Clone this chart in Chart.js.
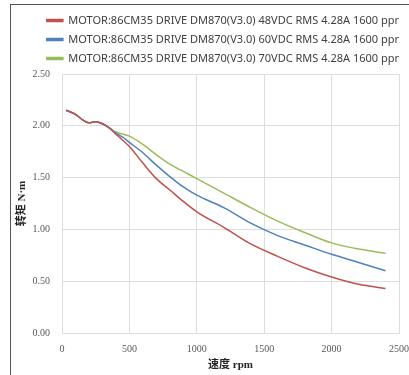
<!DOCTYPE html>
<html>
<head>
<meta charset="utf-8">
<script src="https://cdn.jsdelivr.net/npm/chart.js@4"></script>
<style>
  html, body { margin: 0; padding: 0; background: #fff; }
  #wrap { position: relative; width: 409px; height: 375px; }
  #frame {
    position: absolute; left: 10px; top: 4px; right: 0; bottom: 0;
    border-left: 1px solid #555; border-top: 1px solid #555;
    pointer-events: none;
  }
</style>
</head>
<body>
<div id="wrap">
  <canvas id="torque-chart" width="409" height="375"></canvas>
  <div id="frame"></div>
</div>
<script>
// --- data ---
const speeds = [30, 100, 150, 200, 250, 300, 350, 400, 450, 500, 600, 700, 800, 900, 1000, 1200, 1400, 1600, 1800, 2000, 2200, 2400];
const torque48 = [2.15, 2.11, 2.06, 2.03, 2.04, 2.02, 1.98, 1.92, 1.86, 1.80, 1.64, 1.49, 1.38, 1.27, 1.17, 1.02, 0.86, 0.74, 0.63, 0.54, 0.47, 0.43];
const torque60 = [2.15, 2.11, 2.06, 2.03, 2.04, 2.02, 1.98, 1.93, 1.89, 1.84, 1.74, 1.62, 1.51, 1.41, 1.33, 1.21, 1.06, 0.94, 0.85, 0.76, 0.68, 0.60];
const torque70 = [2.15, 2.11, 2.06, 2.03, 2.04, 2.02, 1.98, 1.94, 1.92, 1.90, 1.82, 1.72, 1.63, 1.56, 1.49, 1.35, 1.21, 1.08, 0.97, 0.87, 0.81, 0.77];
const seriesLabels = [
    'MOTOR:86CM35 DRIVE DM870(V3.0) 48VDC RMS 4.28A 1600 ppr',
    'MOTOR:86CM35 DRIVE DM870(V3.0) 60VDC RMS 4.28A 1600 ppr',
    'MOTOR:86CM35 DRIVE DM870(V3.0) 70VDC RMS 4.28A 1600 ppr'
];
const xTicks = [0, 500, 1000, 1500, 2000, 2500];
const yTicks = [0, 0.5, 1.0, 1.5, 2.0, 2.5];

const colors = ['#C0504D', '#4F81BD', '#9BBB59'];
const serif = '"Liberation Serif", "Noto Sans CJK SC", serif';

const toPoints = (ys) => ys.map((y, i) => ({ x: speeds[i], y: y }));

const ctx = document.getElementById('torque-chart').getContext('2d');
new Chart(ctx, {
    type: 'line',
    data: {
        datasets: [torque48, torque60, torque70].map((ys, i) => ({
            label: seriesLabels[i],
            data: toPoints(ys),
            borderColor: colors[i],
            backgroundColor: colors[i],
            borderWidth: 1.5,
            pointRadius: 0,
            cubicInterpolationMode: 'monotone',
            fill: false
        }))
    },
    options: {
        responsive: false,
        animation: false,
        events: [],
        layout: { padding: { left: 16, right: 2, top: 7, bottom: 0 } },
        plugins: {
            tooltip: { enabled: false },
            legend: {
                position: 'top',
                align: 'end',
                labels: {
                    boxWidth: 16,
                    boxHeight: 2,
                    padding: 8,
                    color: '#404040',
                    font: { family: '"Noto Sans", sans-serif', size: 11 }
                }
            }
        },
        scales: {
            x: {
                type: 'linear',
                min: 0,
                max: 2500,
                afterBuildTicks: (scale) => { scale.ticks = xTicks.map(v => ({ value: v })); },
                afterFit: (scale) => { scale.height = 42; scale.paddingRight = 10; },
                grid: { color: '#dedede', drawTicks: false },
                border: { color: '#dedede' },
                ticks: {
                    padding: 10,
                    color: '#595959',
                    font: { family: serif, size: 10 },
                    callback: (v) => String(v)
                },
                title: {
                    display: true,
                    text: '速度 rpm',
                    color: '#262626',
                    padding: { top: 2, bottom: 3 },
                    font: { family: serif, size: 11, weight: 'bold' }
                }
            },
            y: {
                min: 0,
                max: 2.5,
                afterBuildTicks: (scale) => { scale.ticks = yTicks.map(v => ({ value: v })); },
                afterFit: (scale) => { scale.width = 46; },
                grid: { color: '#dedede', drawTicks: false },
                border: { color: '#dedede' },
                ticks: {
                    padding: 12,
                    color: '#595959',
                    font: { family: serif, size: 10 },
                    callback: (v) => Number(v).toFixed(2)
                },
                title: {
                    display: true,
                    text: '转矩 N·m',
                    color: '#262626',
                    padding: { top: 0, bottom: 0 },
                    font: { family: serif, size: 11, weight: 'bold' }
                }
            }
        }
    }
});
</script>
</body>
</html>
